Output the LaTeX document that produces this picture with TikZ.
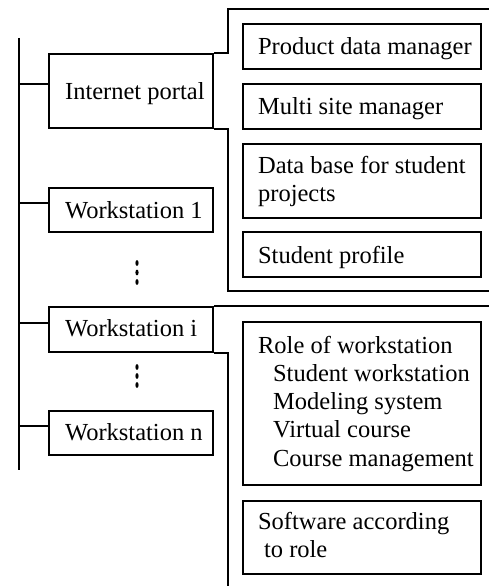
\documentclass[tikz,border=0pt]{standalone}
\usepackage{fontspec}
\setmainfont{Liberation Serif}
\begin{document}
\begin{tikzpicture}[x=1pt,y=-1pt,line width=2.2pt,
  box/.style={draw, rectangle, inner sep=0pt, anchor=north west},
  lbl/.style={inner sep=0pt, anchor=north west, align=left,
              font=\fontsize{24.5}{28.25}\selectfont},
  link/.style={draw},
  dot/.style={fill=black}]
\useasboundingbox (0,0) rectangle (489,586);

% network bus
\coordinate (bustop) at (19,38);
\coordinate (busbot) at (19,470);
\draw[link] (bustop) -- (busbot);

% stations on the bus
\node[box, minimum width=164pt, minimum height=74pt] (ip)  at (48,53)  {};
\node[box, minimum width=164pt, minimum height=44pt] (ws1) at (48,187) {};
\node[box, minimum width=164pt, minimum height=45pt] (wsi) at (48,306) {};
\node[box, minimum width=164pt, minimum height=44pt] (wsn) at (48,410) {};

\node[lbl] (ip-t)  at (64,78.2)  {\strut Internet portal};
\node[lbl] (ws1-t) at (64,197.2) {\strut Workstation 1};
\node[lbl] (wsi-t) at (64,315.2) {\strut Workstation i};
\node[lbl] (wsn-t) at (64,419.2) {\strut Workstation n};

\foreach \n in {ip,ws1,wsi,wsn}
  \draw[link] ([yshift=7pt]\n.west) -- ([yshift=7pt]\n.west -| bustop);

% ellipsis marks between stations
\foreach \y in {263,272.5,282,367,376,385}
  \fill[dot] (137,\y) ellipse [x radius=1.6pt, y radius=2.9pt];

% services of the internet portal
\node[box, minimum width=238pt, minimum height=45pt] (pdm)  at (242,23)  {};
\node[box, minimum width=238pt, minimum height=45pt] (msm)  at (242,83)  {};
\node[box, minimum width=238pt, minimum height=74pt] (db)   at (242,143) {};
\node[box, minimum width=238pt, minimum height=45pt] (sp)   at (242,231) {};

\node[lbl] (pdm-t) at (257,33.2)  {\strut Product data manager};
\node[lbl] (msm-t) at (257,93.2)  {\strut Multi site manager};
\node[lbl] (db-t)  at (257,152.2) {\strut Data base for student\\projects};
\node[lbl] (sp-t)  at (257,242.2) {\strut Student profile};

% features of a workstation
\node[box, minimum width=238pt, minimum height=163pt] (role) at (242,321) {};
\node[box, minimum width=238pt, minimum height=73pt]  (sw)   at (242,500) {};

\node[lbl] (role-t) at (257,332.2) {\strut Role of workstation\\
  \hspace*{15pt}Student workstation\\
  \hspace*{15pt}Modeling system\\
  \hspace*{15pt}Virtual course\\
  \hspace*{15pt}Course management};
\node[lbl] (sw-t) at (257,508.2) {\strut Software according\\\hspace*{6pt}to role};

% brackets grouping the detail boxes
\coordinate (b1top) at (228,9);
\coordinate (b1bot) at (228,291);
\coordinate (e1top) at (489,9);
\coordinate (e1bot) at (489,291);
\draw[link] (ip.north east) -| (b1top) -- (e1top);
\draw[link] (ip.south east) -| (b1bot) -- (e1bot);

\coordinate (e2top) at (489,306);
\coordinate (b2bot) at (228,586);
\draw[link] (wsi.north east) -- (e2top);
\draw[link] (wsi.south east) -| (b2bot);
\end{tikzpicture}
\end{document}
